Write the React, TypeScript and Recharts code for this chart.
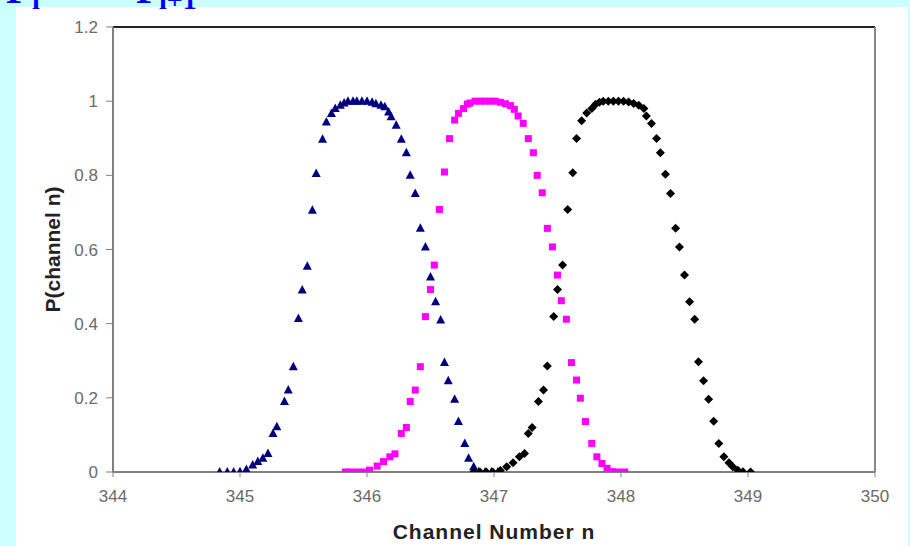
import React from "react";
import { ScatterChart, Scatter, XAxis, YAxis, ReferenceLine } from "recharts";

// P(channel n) for three neighbouring frequencies
const blueSeries: [number, number][] = [
  [344.84, 0], [344.9, 0], [344.95, 0], [345.0, 0.001], [345.05, 0.007], [345.1, 0.019],
  [345.14, 0.028], [345.18, 0.037], [345.22, 0.05], [345.26, 0.104], [345.29, 0.122],
  [345.35, 0.19], [345.38, 0.221], [345.42, 0.284], [345.46, 0.414], [345.49, 0.491],
  [345.53, 0.555], [345.57, 0.706], [345.6, 0.805], [345.65, 0.897], [345.68, 0.944],
  [345.72, 0.967], [345.75, 0.98], [345.79, 0.989], [345.82, 0.995], [345.85, 1.0],
  [345.89, 1.0], [345.92, 1.0], [345.96, 1.0], [346.0, 1.0], [346.04, 0.997], [346.07, 0.993],
  [346.11, 0.989], [346.14, 0.985], [346.17, 0.971], [346.19, 0.958], [346.23, 0.935],
  [346.27, 0.897], [346.31, 0.861], [346.34, 0.8], [346.38, 0.751], [346.42, 0.657],
  [346.46, 0.607], [346.5, 0.526], [346.54, 0.459], [346.58, 0.41], [346.61, 0.295],
  [346.64, 0.246], [346.69, 0.196], [346.72, 0.136], [346.77, 0.077], [346.8, 0.037],
  [346.84, 0.014], [346.88, 0.001], [346.93, 0], [346.98, 0], [347.03, 0],
];

const magentaSeries: [number, number][] = [
  [345.83, 0], [345.87, 0], [345.92, 0], [345.97, 0], [346.02, 0.005], [346.08, 0.016],
  [346.13, 0.028], [346.18, 0.041], [346.22, 0.049], [346.27, 0.104], [346.31, 0.12],
  [346.34, 0.19], [346.38, 0.221], [346.42, 0.284], [346.46, 0.419], [346.5, 0.492],
  [346.53, 0.558], [346.57, 0.708], [346.61, 0.809], [346.65, 0.899], [346.69, 0.949],
  [346.72, 0.967], [346.76, 0.98], [346.79, 0.992], [346.81, 0.995], [346.85, 1.0],
  [346.89, 1.0], [346.93, 1.0], [346.97, 1.0], [347.01, 1.0], [347.05, 0.997], [347.09, 0.993],
  [347.13, 0.988], [347.16, 0.978], [347.19, 0.96], [347.23, 0.94], [347.27, 0.899],
  [347.31, 0.861], [347.34, 0.8], [347.38, 0.753], [347.42, 0.657], [347.46, 0.607],
  [347.5, 0.531], [347.53, 0.462], [347.57, 0.412], [347.61, 0.295], [347.65, 0.248],
  [347.68, 0.199], [347.72, 0.136], [347.77, 0.077], [347.81, 0.041], [347.85, 0.023],
  [347.89, 0.01], [347.93, 0.001], [347.98, 0], [348.03, 0],
];

const blackSeries: [number, number][] = [
  [346.84, 0], [346.89, 0], [346.94, 0], [346.99, 0], [347.05, 0.004], [347.1, 0.014],
  [347.15, 0.025], [347.2, 0.041], [347.24, 0.05], [347.27, 0.104], [347.3, 0.12],
  [347.35, 0.19], [347.39, 0.221], [347.42, 0.286], [347.47, 0.419], [347.5, 0.492],
  [347.54, 0.558], [347.58, 0.708], [347.62, 0.807], [347.65, 0.899], [347.69, 0.947],
  [347.73, 0.968], [347.77, 0.98], [347.8, 0.992], [347.83, 0.997], [347.86, 1.0],
  [347.9, 1.0], [347.94, 1.0], [347.98, 1.0], [348.02, 1.0], [348.06, 0.998], [348.1, 0.994],
  [348.14, 0.989], [348.18, 0.98], [348.2, 0.96], [348.24, 0.94], [348.28, 0.899],
  [348.31, 0.861], [348.35, 0.803], [348.39, 0.751], [348.43, 0.657], [348.46, 0.607],
  [348.5, 0.531], [348.54, 0.459], [348.58, 0.412], [348.61, 0.297], [348.65, 0.246],
  [348.69, 0.196], [348.73, 0.137], [348.77, 0.077], [348.81, 0.041], [348.85, 0.025],
  [348.88, 0.014], [348.92, 0.005], [348.96, 0.001], [349.02, 0],
];

const xTicks = [344, 345, 346, 347, 348, 349, 350];
const yTicks = [0, 0.2, 0.4, 0.6, 0.8, 1, 1.2];

const toPoints = (s: [number, number][]) => s.map(([x, y]) => ({ x, y }));

const Triangle = (p: any) => {
  const { cx, cy } = p;
  return <polygon points={`${cx},${cy - 5} ${cx - 4.5},${cy + 3.5} ${cx + 4.5},${cy + 3.5}`} fill="#000080" />;
};
const SquareM = (p: any) => {
  const { cx, cy } = p;
  return <rect x={cx - 3.5} y={cy - 3.5} width={7} height={7} fill="#ff00ff" />;
};
const DiamondK = (p: any) => {
  const { cx, cy } = p;
  return <polygon points={`${cx},${cy - 4.5} ${cx + 4.5},${cy} ${cx},${cy + 4.5} ${cx - 4.5},${cy}`} fill="#000000" />;
};

const tickStyle = { fontFamily: "Arial, 'Liberation Sans', sans-serif", fontSize: 17, fill: "#6a6a6a" };

const YLabel = (props: any) => {
  const vb = props.viewBox || {};
  const cy = vb.y + vb.height / 2;
  const cx = 36;
  return (
    <text x={cx} y={cy} transform={`rotate(-90 ${cx} ${cy})`} textAnchor="middle" dominantBaseline="central"
      style={{ fontFamily: "Arial, 'Liberation Sans', sans-serif", fontSize: 21, fontWeight: "bold", fill: "#222" }}>
      P(channel n)
    </text>
  );
};
const XLabel = (props: any) => {
  const vb = props.viewBox || {};
  const cx = vb.x + vb.width / 2;
  return (
    <text x={cx} y={524} textAnchor="middle" dominantBaseline="central"
      style={{ fontFamily: "Arial, 'Liberation Sans', sans-serif", fontSize: 21, fontWeight: "bold", fill: "#222", letterSpacing: 1 }}>
      Channel Number n
    </text>
  );
};

export default function App() {
  return (
    <div style={{ position: "fixed", left: 0, top: 0, width: 910, height: 546, background: "#ccffff", overflow: "hidden" }}>
      <div style={{ position: "absolute", left: 16, top: 7, width: 892, height: 539, background: "#ffffff" }}>
        <ScatterChart width={892} height={539} margin={{ top: 20, right: 33, left: 0, bottom: 0 }}>
          <XAxis type="number" dataKey="x" domain={[344, 350]} ticks={xTicks} allowDataOverflow
            height={74} tickSize={5} tickMargin={13} tick={tickStyle}
            axisLine={{ stroke: "#808080", strokeWidth: 2 }} tickLine={{ stroke: "#808080" }}
            label={<XLabel />} />
          <YAxis type="number" dataKey="y" domain={[0, 1.2]} ticks={yTicks} allowDataOverflow
            width={97} tickSize={7} tickMargin={8} tick={tickStyle}
            axisLine={{ stroke: "#808080", strokeWidth: 2 }} tickLine={{ stroke: "#808080" }}
            label={<YLabel />} />
          <ReferenceLine y={1.2} stroke="#222" strokeWidth={2} />
          <ReferenceLine x={350} stroke="#888" strokeWidth={2} />
          <Scatter data={toPoints(blueSeries)} shape={Triangle} isAnimationActive={false} />
          <Scatter data={toPoints(magentaSeries)} shape={SquareM} isAnimationActive={false} />
          <Scatter data={toPoints(blackSeries)} shape={DiamondK} isAnimationActive={false} />
        </ScatterChart>
      </div>
      <svg width={910} height={30} style={{ position: "absolute", left: 0, top: 0 }}>
        <g style={{ fontFamily: "'Liberation Serif', 'Times New Roman', serif", fontWeight: "bold", fill: "#0000ff" }}>
          <text x={6} y={3} fontSize={40}>P</text>
          <text x={32} y={9} fontSize={28}>i</text>
          <text x={136} y={3} fontSize={40}>P</text>
          <text x={159} y={9} fontSize={28}>i+1</text>
        </g>
      </svg>
    </div>
  );
}
